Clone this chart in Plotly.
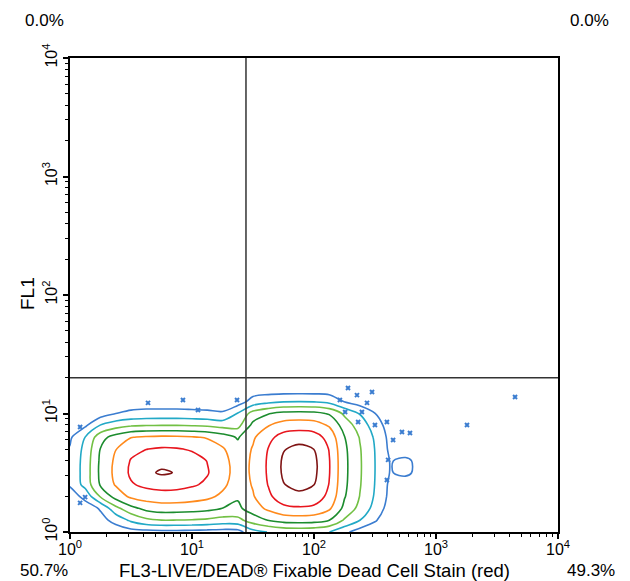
import plotly.graph_objects as go

# ---- data ----
# contour grid: FL3 (x) and FL1 (y) positions, in decades (log10 of the signal)
fl3_decades = [-0.125, 0.0, 0.125, 0.25, 0.375, 0.5, 0.625, 0.75, 0.875, 1.0, 1.125, 1.25,
               1.375, 1.5, 1.625, 1.75, 1.875, 2.0, 2.125, 2.25, 2.375, 2.5, 2.625, 2.75,
               2.875, 3.0]
fl1_decades = [0.0, 0.1, 0.2, 0.3, 0.4, 0.5, 0.6, 0.7, 0.8, 0.9, 1.0, 1.1, 1.2]

# estimated density level (contour index) at each grid node, rows = FL1, cols = FL3
density = [
    [0, 0, 0, 0, 0, 0.1, 0.15, 0.2, 0.2, 0.16, 0.1, 0.05, 0.12, 1.16, 1.53, 1.75, 1.8, 1.76, 1.51, 0.72, 0.04, 0, 0, 0, 0, 0],
    [0, 0, 0, 0.2, 0.8, 1.7, 2.3, 2.5, 2.49, 2.44, 2.35, 2.13, 2.2, 3.0, 3.55, 3.9, 3.97, 3.91, 3.51, 2.39, 1.52, 0.58, 0, 0, 0, 0],
    [0, 0, 0, 0.6, 2.2, 3.2, 3.8, 4.03, 4.01, 3.94, 3.8, 3.49, 3.3, 3.99, 4.72, 5.26, 5.38, 5.28, 4.67, 3.23, 2.21, 1.16, 0.03, 0, 0, 0],
    [0, 0, 0.8, 2.6, 3.9, 4.7, 4.99, 5.08, 5.05, 4.93, 4.73, 4.29, 3.62, 4.42, 5.3, 6.04, 6.25, 6.08, 5.23, 3.57, 2.48, 1.39, 0.22, 0, 0, 0],
    [0.15, 0.62, 1.85, 3.62, 4.59, 5.4, 5.73, 5.89, 5.84, 5.63, 5.33, 4.74, 3.96, 4.58, 5.54, 6.46, 6.79, 6.51, 5.46, 3.7, 2.58, 1.47, 0.28, 0, 0, 0],
    [0.2, 0.67, 1.92, 3.73, 4.75, 5.67, 6.3, 6.62, 6.45, 5.98, 5.57, 4.91, 4.08, 4.64, 5.63, 6.65, 7.2, 6.72, 5.55, 3.74, 2.62, 1.5, 0.45, 0.7, 0.2, 0],
    [0.18, 0.65, 1.9, 3.69, 4.69, 5.57, 5.97, 6.21, 6.13, 5.85, 5.48, 4.85, 4.04, 4.64, 5.63, 6.65, 7.19, 6.72, 5.55, 3.74, 2.62, 1.5, 0.45, 0.7, 0.2, 0],
    [0.11, 0.57, 1.8, 3.54, 4.47, 5.21, 5.48, 5.61, 5.57, 5.41, 5.14, 4.61, 3.87, 4.58, 5.53, 6.44, 6.76, 6.49, 5.45, 3.69, 2.58, 1.47, 0.28, 0, 0, 0],
    [0, 0.35, 1.52, 3.12, 3.91, 4.46, 4.62, 4.7, 4.68, 4.58, 4.41, 4.02, 3.4, 4.36, 5.21, 5.91, 6.1, 5.95, 5.15, 3.53, 2.45, 1.36, 0.19, 0, 0, 0],
    [0, 0, 0.34, 1.56, 2.07, 2.38, 2.46, 2.5, 2.49, 2.44, 2.35, 2.13, 2.18, 3.77, 4.45, 4.92, 5.03, 4.94, 4.4, 3.05, 2.06, 1.04, 0, 0, 0, 0],
    [0, 0, 0, 0, 0.5, 0.7, 0.8, 0.8, 0.8, 0.75, 0.7, 0.6, 1.55, 2.91, 3.44, 3.78, 3.85, 3.79, 3.4, 2.31, 1.45, 0.51, 0, 0, 0, 0],
    [0, 0, 0, 0, 0, 0, 0, 0, 0, 0, 0, 0, 0, 0.89, 1.24, 1.46, 1.5, 1.46, 1.22, 0.46, 0, 0, 0, 0, 0, 0],
    [0, 0, 0, 0, 0, 0, 0, 0, 0, 0, 0, 0, 0, 0, 0, 0, 0, 0, 0, 0, 0, 0, 0, 0, 0, 0],
]

# isolated events outside the outer contour
outlier_fl3 = [190, 225, 299, 163, 272, 180, 247, 396, 316, 230, 445, 526, 612, 405, 396,
               1795, 4446, 4.36, 8.43, 11.2, 23.4, 1.33, 1.21, 1.21]
outlier_fl1 = [16.4, 14.3, 15.2, 13.0, 12.3, 10.3, 10.3, 8.47, 8.0, 8.47, 5.97, 6.98, 6.84,
               4.06, 2.75, 8.0, 13.8, 12.3, 13.0, 10.7, 13.0, 1.97, 1.76, 7.69]

# quadrant gate thresholds
gate_fl3 = 27.7
gate_fl1 = 20.0

# quadrant percentages
q_upper_left = "0.0%"
q_upper_right = "0.0%"
q_lower_left = "50.7%"
q_lower_right = "49.3%"

x_title = "FL3-LIVE/DEAD® Fixable Dead Cell Stain (red)"
y_title = "FL1"
tick_values = [1, 10, 100, 1000, 10000]
tick_labels = ["10<sup>0</sup>", "10<sup>1</sup>", "10<sup>2</sup>", "10<sup>3</sup>", "10<sup>4</sup>"]

level_colors = ["#3b7dd0", "#22a9c6", "#72c044", "#1c8c2e", "#ff8a1c", "#e8161e", "#7f1414"]

# ---- figure ----
fl3_vals = [10 ** e for e in fl3_decades]
fl1_vals = [10 ** e for e in fl1_decades]
n = len(level_colors)
colorscale = [[i / (n - 1), c] for i, c in enumerate(level_colors)]

fig = go.Figure()
fig.add_trace(go.Contour(
    x=fl3_vals, y=fl1_vals, z=density,
    contours=dict(coloring="lines", start=0.5, end=6.5, size=1),
    colorscale=colorscale, zmin=0.5, zmax=6.5, showscale=False,
    line=dict(width=1.6, smoothing=0.9),
    hoverinfo="skip",
))
fig.add_trace(go.Scatter(
    x=outlier_fl3, y=outlier_fl1, mode="markers",
    marker=dict(symbol="x-thin", size=4, line=dict(width=2, color="#3b7dd0"), color="#3b7dd0"),
    hoverinfo="skip",
))
fig.add_trace(go.Scatter(
    x=[gate_fl3, gate_fl3], y=[1, 10000], mode="lines",
    line=dict(color="#333333", width=1.5), hoverinfo="skip",
))
fig.add_trace(go.Scatter(
    x=[1, 10000], y=[gate_fl1, gate_fl1], mode="lines",
    line=dict(color="#333333", width=1.5), hoverinfo="skip",
))

minor_vals = [m * 10 ** d for d in range(4) for m in range(2, 10)]
axis_common = dict(
    type="log", range=[0, 4], showgrid=False, zeroline=False,
    showline=True, mirror=True, linecolor="black", linewidth=1.5,
    ticks="outside", ticklen=5, tickwidth=1.5, tickcolor="black",
    tickmode="array", tickvals=tick_values, ticktext=tick_labels,
    tickfont=dict(size=16, color="black"),
    minor=dict(tickmode="array", tickvals=minor_vals, ticks="outside", ticklen=3,
               tickwidth=1, tickcolor="black", showgrid=False),
)
fig.update_xaxes(**axis_common, ticklabelstandoff=-3)
fig.update_yaxes(**axis_common, tickangle=-90)

W0, W1, H0, H1 = 70, 558, 58, 532  # plot area in pixels


def px(xp):
    return (xp - W0) / (W1 - W0)


def py(yp):
    return (H1 - yp) / (H1 - H0)


pct_font = dict(size=17, color="black")
ann = [
    dict(text=q_upper_left, x=px(44), y=py(20), font=pct_font),
    dict(text=q_upper_right, x=px(589), y=py(20), font=pct_font),
    dict(text=q_lower_left, x=px(44), y=py(570), font=pct_font),
    dict(text=x_title, x=px(314), y=py(570), font=dict(size=18.5, color="black")),
    dict(text=q_lower_right, x=px(591), y=py(570), font=pct_font),
    dict(text=y_title, x=px(27), y=py(294), textangle=-90, font=dict(size=19, color="black")),
]
for a in ann:
    a.update(xref="paper", yref="paper", showarrow=False,
             xanchor="center", yanchor="middle", borderpad=0)

fig.update_layout(
    width=630, height=581,
    margin=dict(l=W0, r=630 - W1, t=H0, b=581 - H1),
    paper_bgcolor="white", plot_bgcolor="white",
    showlegend=False,
    font=dict(family="Liberation Sans, Arial, sans-serif", color="black"),
    annotations=ann,
)

fig.write_html("out.html", config={"displayModeBar": False},
               post_script="document.body.style.margin='0px';document.body.style.overflow='hidden';")
